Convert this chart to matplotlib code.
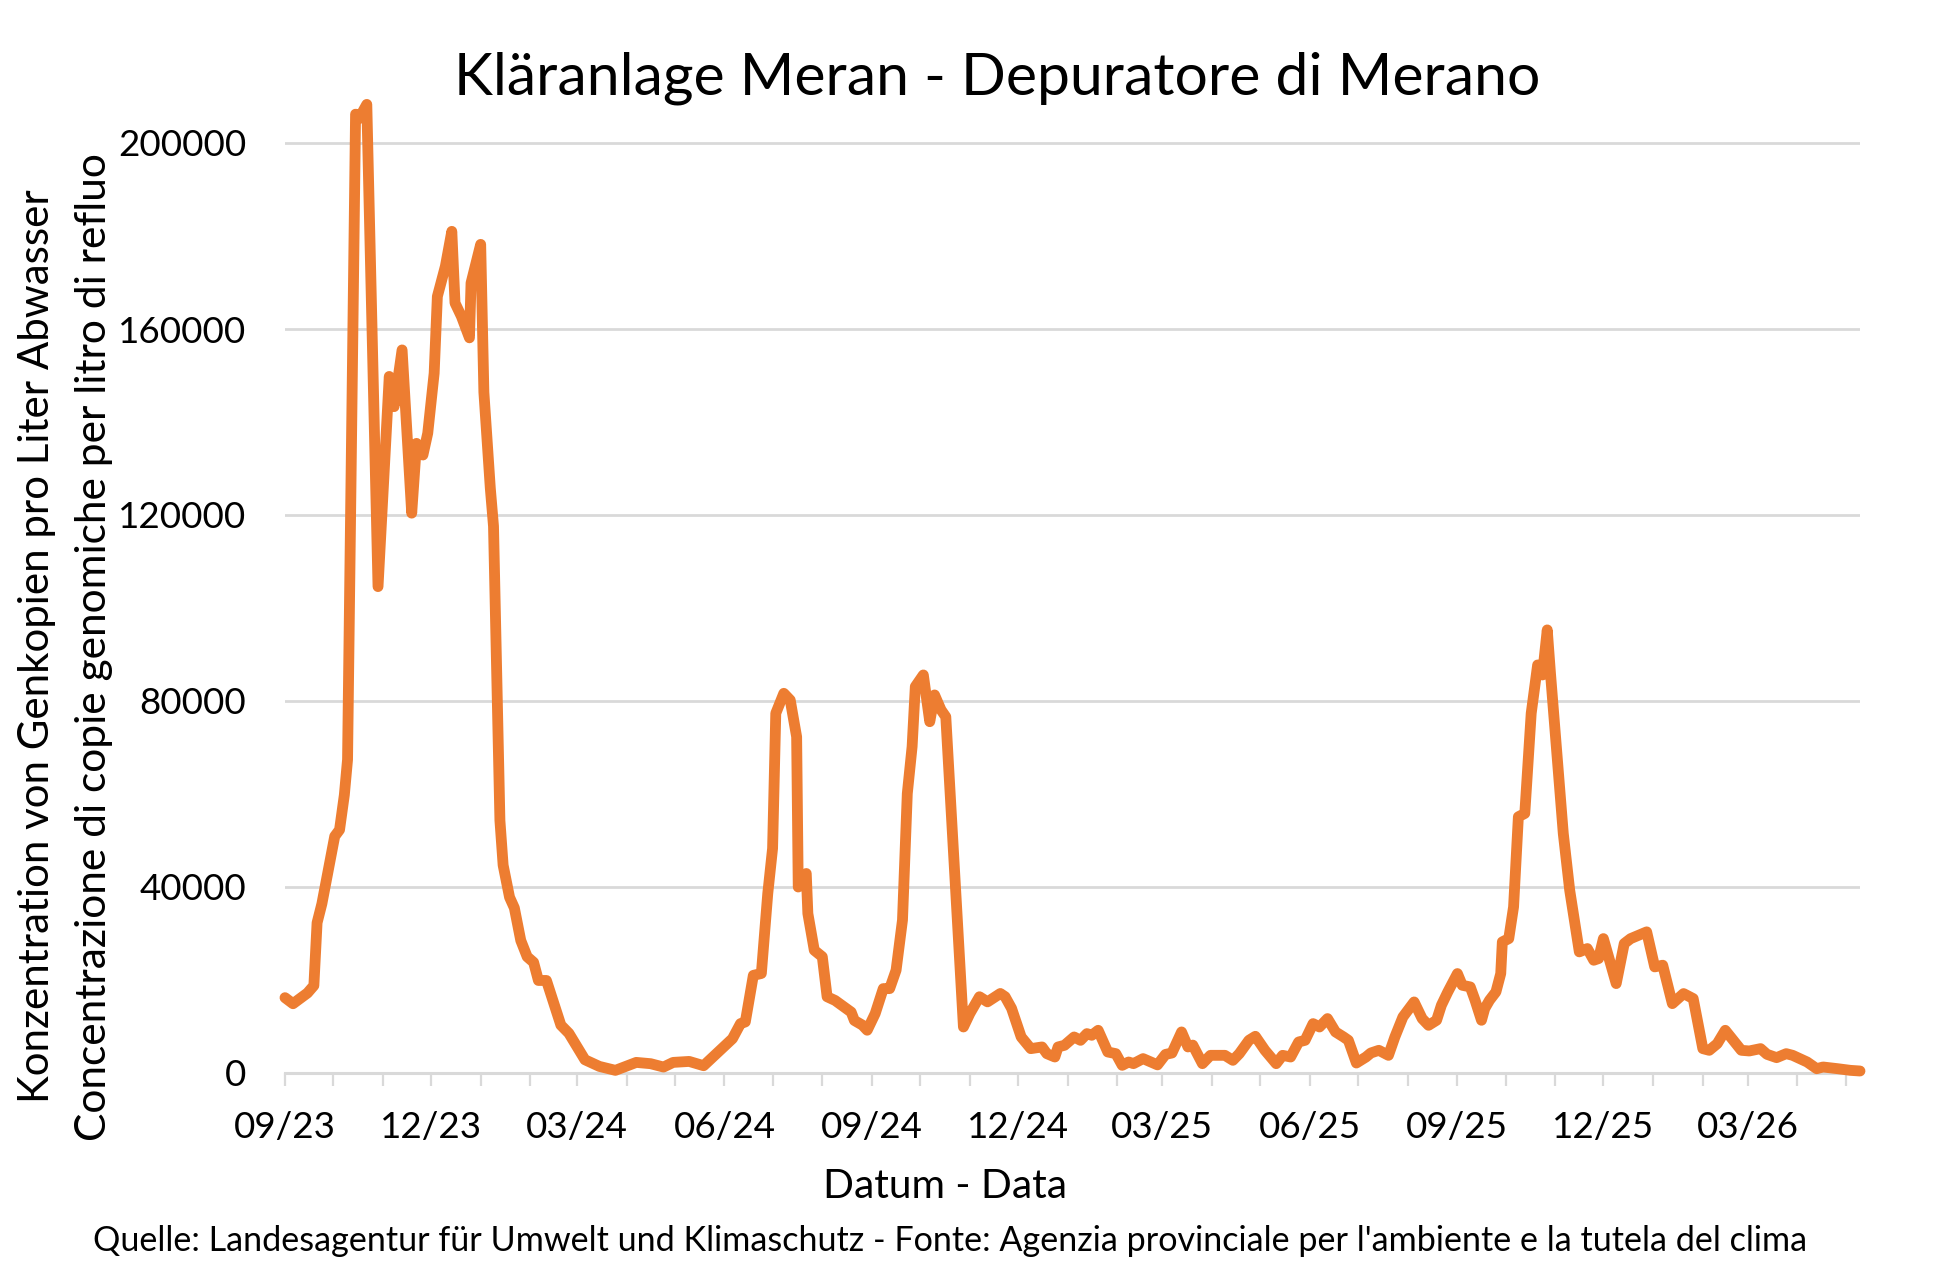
import matplotlib
matplotlib.use("Agg")
import matplotlib.pyplot as plt
import matplotlib.dates as mdates
import pandas as pd

# ---------------- data ----------------
dates = [
    "2023-09-01", "2023-09-06", "2023-09-15", "2023-09-19", "2023-09-21", "2023-09-24", "2023-09-29", "2023-10-02", "2023-10-05", "2023-10-08",
    "2023-10-10", "2023-10-15", "2023-10-17", "2023-10-22", "2023-10-29", "2023-11-05", "2023-11-08", "2023-11-13", "2023-11-19", "2023-11-22",
    "2023-11-26", "2023-11-29", "2023-12-03", "2023-12-05", "2023-12-10", "2023-12-14", "2023-12-16", "2023-12-20", "2023-12-25", "2023-12-26",
    "2024-01-01", "2024-01-03", "2024-01-07", "2024-01-09", "2024-01-13", "2024-01-15", "2024-01-19", "2024-01-22", "2024-01-26", "2024-01-30",
    "2024-02-03", "2024-02-06", "2024-02-11", "2024-02-20", "2024-02-25", "2024-03-06", "2024-03-15", "2024-03-25", "2024-04-07", "2024-04-16",
    "2024-04-24", "2024-04-30", "2024-05-10", "2024-05-19", "2024-05-25", "2024-06-06", "2024-06-11", "2024-06-14", "2024-06-19", "2024-06-24",
    "2024-06-28", "2024-07-01", "2024-07-03", "2024-07-08", "2024-07-12", "2024-07-16", "2024-07-17", "2024-07-22", "2024-07-23", "2024-07-27",
    "2024-08-01", "2024-08-04", "2024-08-09", "2024-08-13", "2024-08-19", "2024-08-21", "2024-08-26", "2024-08-29", "2024-09-03", "2024-09-08",
    "2024-09-12", "2024-09-16", "2024-09-20", "2024-09-23", "2024-09-26", "2024-09-28", "2024-10-03", "2024-10-07", "2024-10-10", "2024-10-14",
    "2024-10-17", "2024-10-28", "2024-11-01", "2024-11-07", "2024-11-12", "2024-11-20", "2024-11-23", "2024-11-27", "2024-12-03", "2024-12-09",
    "2024-12-16", "2024-12-19", "2024-12-24", "2024-12-26", "2024-12-30", "2025-01-05", "2025-01-09", "2025-01-13", "2025-01-16", "2025-01-20",
    "2025-01-26", "2025-01-31", "2025-02-04", "2025-02-08", "2025-02-11", "2025-02-17", "2025-02-26", "2025-03-03", "2025-03-07", "2025-03-13",
    "2025-03-17", "2025-03-20", "2025-03-26", "2025-03-31", "2025-04-09", "2025-04-14", "2025-04-18", "2025-04-24", "2025-04-28", "2025-05-04",
    "2025-05-11", "2025-05-15", "2025-05-20", "2025-05-25", "2025-05-29", "2025-06-03", "2025-06-07", "2025-06-12", "2025-06-17", "2025-06-22",
    "2025-06-25", "2025-06-30", "2025-07-06", "2025-07-09", "2025-07-14", "2025-07-20", "2025-07-24", "2025-07-29", "2025-08-05", "2025-08-10",
    "2025-08-14", "2025-08-19", "2025-08-22", "2025-08-26", "2025-09-01", "2025-09-04", "2025-09-09", "2025-09-12", "2025-09-16", "2025-09-18",
    "2025-09-21", "2025-09-25", "2025-09-28", "2025-09-29", "2025-10-03", "2025-10-06", "2025-10-09", "2025-10-13", "2025-10-17", "2025-10-21",
    "2025-10-24", "2025-10-27", "2025-10-29", "2025-11-01", "2025-11-06", "2025-11-10", "2025-11-16", "2025-11-21", "2025-11-25", "2025-11-28",
    "2025-12-01", "2025-12-09", "2025-12-14", "2025-12-18", "2025-12-28", "2026-01-02", "2026-01-07", "2026-01-13", "2026-01-20", "2026-01-26",
    "2026-02-01", "2026-02-05", "2026-02-10", "2026-02-15", "2026-02-20", "2026-02-25", "2026-03-02", "2026-03-09", "2026-03-13", "2026-03-19",
    "2026-03-25", "2026-03-29", "2026-04-07", "2026-04-13", "2026-04-17", "2026-04-26", "2026-05-04", "2026-05-10",
]

values = [
    16200, 14900, 17200, 18800, 32300, 36400, 45400, 50900, 52300, 59800,
    67400, 206200, 205200, 208300, 104600, 149800, 143300, 155500, 120400, 135400,
    132900, 137600, 150500, 167000, 173500, 181000, 165600, 162700, 158100, 169900,
    178200, 146400, 125800, 117600, 54300, 44700, 37800, 35500, 28500, 25000,
    23800, 19900, 19900, 10300, 8540, 2850, 1420, 570, 2280, 2000,
    1280, 2280, 2490, 1570, 3500, 7390, 10620, 10980, 21000, 21400,
    38600, 48300, 77350, 81650, 80200, 72300, 40000, 42900, 34300, 26400,
    25000, 16400, 15600, 14600, 13100, 11300, 10300, 9200, 12800, 18150,
    18150, 22100, 32900, 60100, 70200, 83100, 85600, 75550, 81300, 78100,
    76600, 9900, 12800, 16400, 15300, 17100, 16400, 13900, 7750, 5240,
    5600, 4160, 3440, 5600, 5960, 7750, 7030, 8470, 8110, 9180,
    4520, 4160, 1650, 2370, 2010, 3090, 1750, 4000, 4300, 8830,
    5600, 6000, 2010, 3800, 3800, 2730, 4160, 7030, 7890, 4880,
    2010, 3800, 3440, 6670, 7030, 10620, 9900, 11700, 8830, 7750,
    7030, 2150, 3440, 4300, 4880, 3800, 7750, 12050, 15280, 11700,
    10260, 11340, 14570, 17440, 21380, 18870, 18510, 15640, 11340, 13850,
    15640, 17440, 21380, 28200, 28900, 35730, 55100, 55820, 77350, 87750,
    85600, 95290, 86000, 73000, 51500, 39300, 26050, 26760, 24250, 24610,
    28900, 19230, 27840, 28900, 30350, 22820, 23180, 14920, 17080, 16000,
    5240, 4880, 6310, 9180, 7030, 4880, 4740, 5240, 4020, 3300,
    4160, 3800, 2370, 930, 1290, 930, 570, 430,
]

y_ticks = [0, 40000, 80000, 120000, 160000, 200000]
y_tick_labels = ["0", "40000", "80000", "120000", "160000", "200000"]

title = "Kläranlage Meran - Depuratore di Merano"
ylabel_de = "Konzentration von Genkopien pro Liter Abwasser"
ylabel_it = "Concentrazione di copie genomiche per litro di refluo"
xlabel = "Datum - Data"
source = ("Quelle: Landesagentur für Umwelt und Klimaschutz - Fonte: Agenzia "
          "provinciale per l'ambiente e la tutela del clima")

# ---------------- figure ----------------
W, H, DPI = 1936, 1287, 100
plt.rcParams['font.family'] = ['Lato', 'DejaVu Sans']

fig = plt.figure(figsize=(W / DPI, H / DPI), dpi=DPI, facecolor='white')
ax = fig.add_axes([285 / W, (H - 1073) / H, (1860 - 285) / W, 976.5 / H])

x = pd.to_datetime(dates)
ax.plot(x, values, color='#ED7D31', lw=7.8, solid_joinstyle='round',
        solid_capstyle='round', clip_on=False, zorder=3)

ax.set_xlim(x[0], x[-1])
ax.set_ylim(0, 210000)
ax.set_yticks(y_ticks)
ax.set_yticklabels(y_tick_labels)
ax.yaxis.grid(True, color='#D9D9D9', lw=2.0)
ax.set_axisbelow(True)
for s in ['top', 'right', 'left']:
    ax.spines[s].set_visible(False)
ax.spines['bottom'].set_color('#D9D9D9')
ax.spines['bottom'].set_linewidth(2.2)

ax.tick_params(axis='y', length=0, pad=28, labelsize=26.5, labelcolor='black')
ax.xaxis.set_major_locator(mdates.MonthLocator(bymonth=[3, 6, 9, 12]))
ax.xaxis.set_minor_locator(mdates.MonthLocator())
ax.xaxis.set_major_formatter(mdates.DateFormatter('%m/%y'))
ax.tick_params(axis='x', which='both', length=9, width=1.6, color='#D9D9D9',
               direction='out', labelsize=26.5, pad=18, labelcolor='black')

t_title = fig.text(997 / W, 1 - 78 / H, title, ha='center', va='center',
                   fontsize=40, color='black')
t_xl = fig.text(945 / W, 1 - 1186 / H, xlabel, ha='center', va='center',
                fontsize=26, color='black')
t_src = fig.text(950 / W, 1 - 1241 / H, source, ha='center', va='center',
                 fontsize=22, color='black')
t_y1 = fig.text(37 / W, 1 - 646 / H, ylabel_de, ha='center', va='center',
                rotation=90, fontsize=26, color='black')
t_y2 = fig.text(94 / W, 1 - 647 / H, ylabel_it, ha='center', va='center',
                rotation=90, fontsize=26, color='black')

# scale fonts so that the text lengths match the reference layout
fig.canvas.draw()
r = fig.canvas.get_renderer()
for t, target, use_h in [(t_title, 1086, False), (t_xl, 244, False),
                         (t_src, 1708, False), (t_y1, 911, True),
                         (t_y2, 988, True)]:
    bb = t.get_window_extent(r)
    size = bb.height if use_h else bb.width
    t.set_fontsize(t.get_fontsize() * target / size)

fig.savefig('out.png', dpi=DPI, facecolor='white')
